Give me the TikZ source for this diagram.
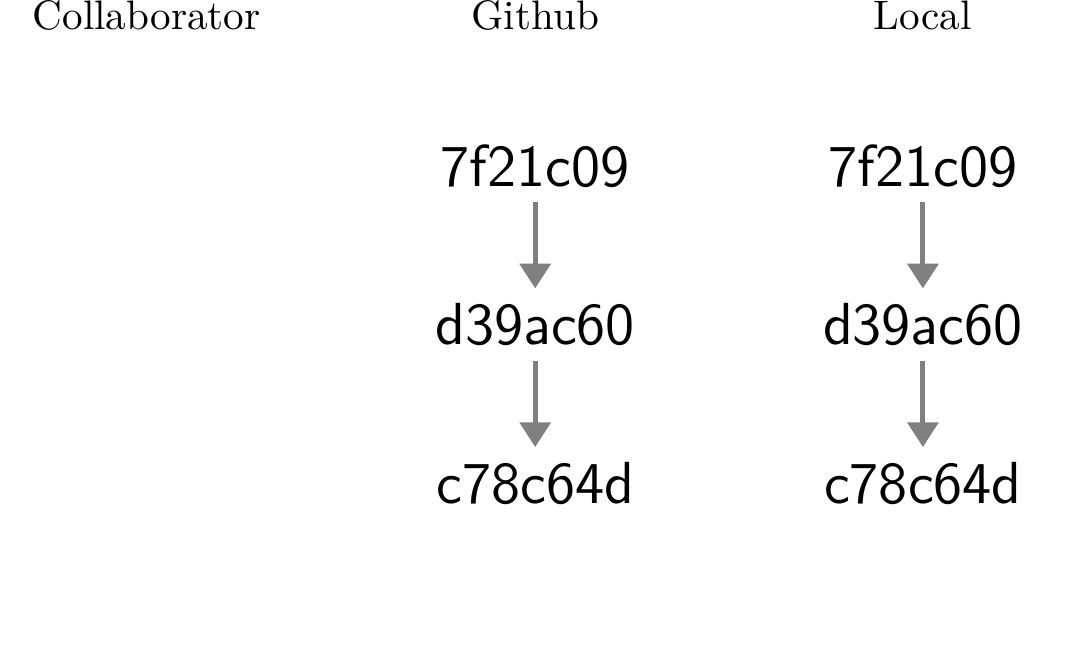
\documentclass[tikz,border=0pt]{standalone}
\usetikzlibrary{arrows.meta}
\begin{document}
\begin{tikzpicture}[x=1pt,y=1pt,
    commit/.style={font=\sffamily\Large,anchor=base,inner sep=3.4pt},
    title/.style={anchor=base,inner sep=0pt},
    parent/.style={draw=gray,line width=1.2pt,-{Triangle[length=6pt,width=7.4pt]}}]
      \useasboundingbox (0,0) rectangle (259.7,-157.5);
      \node[title] (collab) at (35.6,-7.2) {Collaborator};
      \node[title] (github) at (129.9,-7.2) {Github};
      \node[title] (local) at (224.0,-7.2) {Local};
      \node[commit] (gha) at (129.9,-45.2) {7f21c09};
      \node[commit] (ghb) at (129.9,-83.6) {d39ac60};
      \node[commit] (ghc) at (129.9,-122.1) {c78c64d};
      \node[commit] (loa) at (224.0,-45.2) {7f21c09};
      \node[commit] (lob) at (224.0,-83.6) {d39ac60};
      \node[commit] (loc) at (224.0,-122.1) {c78c64d};
      \draw[parent] (gha) -- (ghb);
      \draw[parent] (ghb) -- (ghc);
      \draw[parent] (loa) -- (lob);
      \draw[parent] (lob) -- (loc);
   \end{tikzpicture}
\end{document}
